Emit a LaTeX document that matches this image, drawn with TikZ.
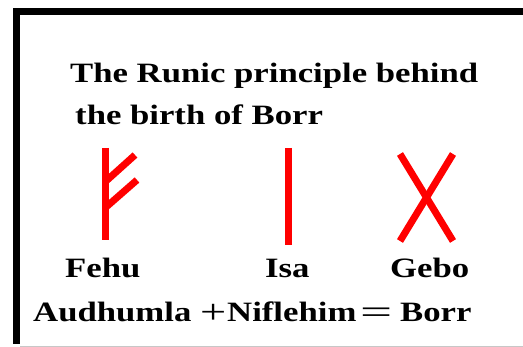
\documentclass[tikz,border=0pt]{standalone}
\usepackage{fontspec}
\setmainfont{Liberation Serif}[FakeStretch=1.24]
\tikzset{
  lbl/.style={inner sep=0pt, anchor=base west, font=\bfseries\fontsize{28}{30}\selectfont},
  sym/.style={inner sep=0pt, anchor=base west, font=\mdseries\fontsize{34}{36}\selectfont},
  rune/.style={draw=red, line width=7pt, line cap=butt},
  frame/.style={draw=black, line width=7pt, line join=miter}
}
\begin{document}
\begin{tikzpicture}[x=1pt,y=-1pt]
\useasboundingbox (0,0) rectangle (523,347);
\fill[white] (0,0) rectangle (523,347);
% frame
\draw[frame] (16.5,344) -- (16.5,11.5) -- (523,11.5);
\draw[black!22, line width=1pt] (20,346.5) -- (523,346.5);
% title
\node[lbl] (t1) at (70,83) {The Runic principle behind};
\node[lbl] (t2) at (75,125) {the birth of Borr};
% runes
\draw[rune] (105,148) -- (105,240);
\draw[rune] (105,182) -- (135,155);
\draw[rune] (105,208) -- (137,180);
\draw[rune] (288,148) -- (288,245);
\draw[rune] (400,154) -- (453,241);
\draw[rune] (453,154) -- (400,241);
% labels
\node[lbl] (fehu) at (65,278) {Fehu};
\node[lbl] (isa) at (265,278) {Isa};
\node[lbl] (gebo) at (390,278) {Gebo};
\node[lbl] (aud) at (33,322) {Audhumla};
\node[sym] (plus) at (200,324) {\scalebox{1.1}[1]{+}};
\node[lbl] (nif) at (227,322) {Niflehim};
\node[sym] (eqs) at (360,324) {\scalebox{1.35}[1]{=}};
\node[lbl] (borr) at (400,322) {Borr};
\end{tikzpicture}
\end{document}
